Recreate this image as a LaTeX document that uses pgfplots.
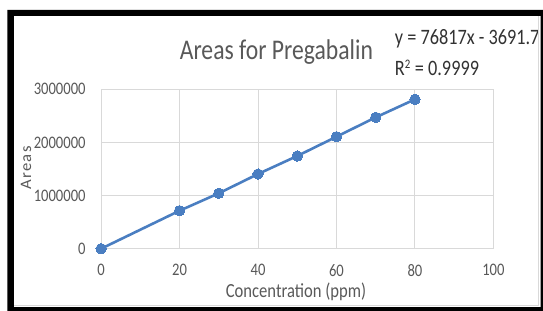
\documentclass[border=0pt]{standalone}
\usepackage{fontspec}
\setmainfont[FakeStretch=0.83]{Carlito}
\newfontfamily\ylabfont[FakeStretch=1.04]{Carlito}
\usepackage{pgfplots}
\pgfplotsset{compat=1.18}
\definecolor{txtgray}{RGB}{89,89,89}
\definecolor{gridgray}{RGB}{217,217,217}
\definecolor{lineblue}{RGB}{74,126,193}
\begin{document}
\begin{tikzpicture}
\useasboundingbox (-101.1bp,-62.3bp) rectangle (441.9bp,248.7bp);
\fill[white] (-101.1bp,-62.3bp) rectangle (441.9bp,248.7bp);
\begin{axis}[
  scale only axis,
  width=392.3bp, height=159.4bp,
  at={(0,0)}, anchor=south west,
  xmin=0, xmax=100, ymin=0, ymax=3000000,
  xtick={0,20,40,60,80,100},
  ytick={0,1000000,2000000,3000000},
  scaled y ticks=false,
  /pgf/number format/assume math mode=true,
  yticklabel={\pgfmathprintnumber[fixed,precision=0,1000 sep={}]{\tick}},
  xticklabel={\pgfmathprintnumber[fixed,precision=0]{\tick}},
  axis line style={draw=none},
  major tick length=0pt,
  grid=major,
  grid style={gridgray, line width=1bp},
  tick label style={font=\fontsize{17.6bp}{20bp}\selectfont, text=txtgray},
  yticklabel style={anchor=east, xshift=-12bp},
  xticklabel style={anchor=north, yshift=-14.5bp, inner sep=1bp},
  clip=false,
]
\addplot[lineblue, line width=2.6bp, mark=*, mark size=5.2bp, mark options={fill=lineblue, draw=lineblue, line width=0pt}]
coordinates {
(0,0) (20,715000) (30,1043000) (40,1406000) (50,1745000) (60,2108000) (70,2472000) (80,2811000)
};
\end{axis}
% texts
\node[text=txtgray, font=\fontsize{28.5bp}{32bp}\selectfont] at (175.3bp,197bp) {Areas for Pregabalin};
\node[text=txtgray, inner sep=1bp, font=\fontsize{20bp}{22bp}\selectfont] at (194.9bp,-43.5bp) {Concentration (ppm)};
\node[text=txtgray, rotate=90, font=\ylabfont\fontsize{16bp}{18bp}\selectfont\addfontfeature{LetterSpace=8}] at (-75.1bp,80.7bp) {Areas};
\node[text={rgb,255:red,50;green,50;blue,50}, anchor=west, inner sep=0pt, font=\fontsize{22bp}{25bp}\selectfont] at (293.6bp,209.7bp) {y = 76817x - 3691.7};
\node[text={rgb,255:red,50;green,50;blue,50}, anchor=west, inner sep=0pt, font=\fontsize{22bp}{25bp}\selectfont] at (293.6bp,180.7bp) {R\textsuperscript{\fontsize{13bp}{14bp}\selectfont 2} = 0.9999};
% frame
\draw[gridgray, line width=1bp] (-87.2bp,-56.3bp) -- (437.2bp,-56.3bp) -- (437.2bp,232.7bp);
\fill[black, even odd rule] (-93.8bp,-62.3bp) rectangle (441.9bp,238.7bp)
  (-87.2bp,-58.3bp) rectangle (439.6bp,232.7bp);
\end{tikzpicture}
\end{document}
